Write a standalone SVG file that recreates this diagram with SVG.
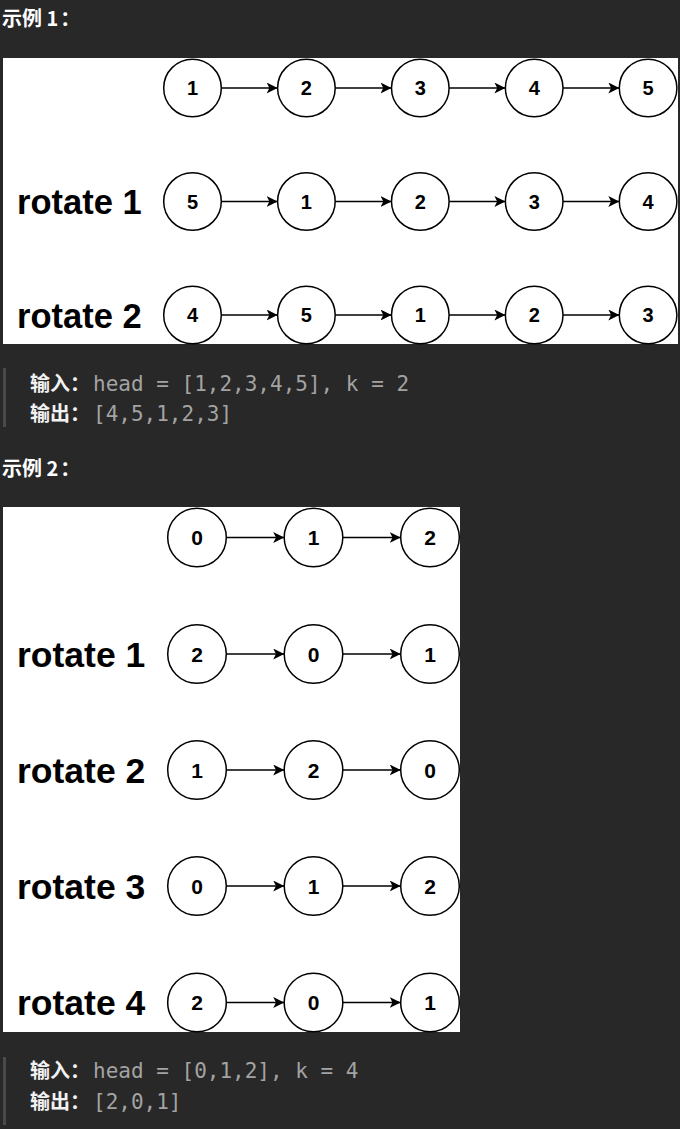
<svg xmlns="http://www.w3.org/2000/svg" width="680" height="1129" viewBox="0 0 680 1129">
<defs>
<marker id="arr" markerUnits="userSpaceOnUse" markerWidth="12" markerHeight="12" refX="11" refY="5.5" orient="auto">
<path d="M0,0 L11,5.5 L0,11 L2.8,5.5 z" fill="#000"/>
</marker>
<style>
.h{font-family:"Noto Sans CJK SC","Noto Sans",sans-serif;font-weight:bold;font-size:20px;fill:#ffffff}
.lb{font-family:"Noto Sans CJK SC","Noto Sans",sans-serif;font-weight:bold;font-size:20px;fill:#f2f2f2}
.mono{font-family:"DejaVu Sans Mono","Liberation Mono",monospace;font-size:21px;fill:#a3a3a3}
.bar{fill:#4a4a4a}
.panel{fill:#ffffff}
.c{fill:#ffffff;stroke:#000;stroke-width:1.5}
.n1{font-family:"Liberation Sans",Arial,sans-serif;font-weight:bold;font-size:20px;text-anchor:middle;fill:#000}
.n2{font-family:"Liberation Sans",Arial,sans-serif;font-weight:bold;font-size:21px;text-anchor:middle;fill:#000}
.rl1{font-family:"Liberation Sans",Arial,sans-serif;font-weight:bold;font-size:34.5px;fill:#000}
.rl2{font-family:"Liberation Sans",Arial,sans-serif;font-weight:bold;font-size:35.5px;fill:#000}
.e{stroke:#000;stroke-width:1.4;fill:none;marker-end:url(#arr)}
</style>
</defs>
<rect width="680" height="1129" fill="#282828"/>

<g id="header1"><text class="h" x="2" y="26">示例 1<tspan dx="2">：</tspan></text></g>
<rect class="panel" x="3" y="58" width="675" height="286"/>

<g id="labels1">
<text class="rl1" x="17" y="214">rotate 1</text>
<text class="rl1" x="17" y="327.5">rotate 2</text>
</g>

<g id="connectors1">
<line class="e" x1="221.3" y1="88" x2="277.6" y2="88"/>
<line class="e" x1="335.2" y1="88" x2="391.5" y2="88"/>
<line class="e" x1="449.1" y1="88" x2="505.4" y2="88"/>
<line class="e" x1="563.0" y1="88" x2="619.3" y2="88"/>
<line class="e" x1="221.3" y1="201.5" x2="277.6" y2="201.5"/>
<line class="e" x1="335.2" y1="201.5" x2="391.5" y2="201.5"/>
<line class="e" x1="449.1" y1="201.5" x2="505.4" y2="201.5"/>
<line class="e" x1="563.0" y1="201.5" x2="619.3" y2="201.5"/>
<line class="e" x1="221.3" y1="315" x2="277.6" y2="315"/>
<line class="e" x1="335.2" y1="315" x2="391.5" y2="315"/>
<line class="e" x1="449.1" y1="315" x2="505.4" y2="315"/>
<line class="e" x1="563.0" y1="315" x2="619.3" y2="315"/>
</g>

<g id="p1r0n0"><circle class="c" cx="192.5" cy="88" r="28.8"/><text class="n1" x="192.5" y="95.2">1</text></g>
<g id="p1r0n1"><circle class="c" cx="306.4" cy="88" r="28.8"/><text class="n1" x="306.4" y="95.2">2</text></g>
<g id="p1r0n2"><circle class="c" cx="420.3" cy="88" r="28.8"/><text class="n1" x="420.3" y="95.2">3</text></g>
<g id="p1r0n3"><circle class="c" cx="534.2" cy="88" r="28.8"/><text class="n1" x="534.2" y="95.2">4</text></g>
<g id="p1r0n4"><circle class="c" cx="648.1" cy="88" r="28.8"/><text class="n1" x="648.1" y="95.2">5</text></g>

<g id="p1r1n0"><circle class="c" cx="192.5" cy="201.5" r="28.8"/><text class="n1" x="192.5" y="208.7">5</text></g>
<g id="p1r1n1"><circle class="c" cx="306.4" cy="201.5" r="28.8"/><text class="n1" x="306.4" y="208.7">1</text></g>
<g id="p1r1n2"><circle class="c" cx="420.3" cy="201.5" r="28.8"/><text class="n1" x="420.3" y="208.7">2</text></g>
<g id="p1r1n3"><circle class="c" cx="534.2" cy="201.5" r="28.8"/><text class="n1" x="534.2" y="208.7">3</text></g>
<g id="p1r1n4"><circle class="c" cx="648.1" cy="201.5" r="28.8"/><text class="n1" x="648.1" y="208.7">4</text></g>

<g id="p1r2n0"><circle class="c" cx="192.5" cy="315" r="28.8"/><text class="n1" x="192.5" y="322.2">4</text></g>
<g id="p1r2n1"><circle class="c" cx="306.4" cy="315" r="28.8"/><text class="n1" x="306.4" y="322.2">5</text></g>
<g id="p1r2n2"><circle class="c" cx="420.3" cy="315" r="28.8"/><text class="n1" x="420.3" y="322.2">1</text></g>
<g id="p1r2n3"><circle class="c" cx="534.2" cy="315" r="28.8"/><text class="n1" x="534.2" y="322.2">2</text></g>
<g id="p1r2n4"><circle class="c" cx="648.1" cy="315" r="28.8"/><text class="n1" x="648.1" y="322.2">3</text></g>

<g id="io1">
<rect class="bar" x="3" y="368" width="3" height="59"/>
<text class="lb" x="30" y="391">输入：</text><text class="mono" x="93" y="391">head = [1,2,3,4,5], k = 2</text>
<text class="lb" x="30" y="421">输出：</text><text class="mono" x="93" y="421">[4,5,1,2,3]</text>
</g>

<g id="header2"><text class="h" x="2" y="476">示例 2<tspan dx="2">：</tspan></text></g>
<rect class="panel" x="3" y="507" width="457" height="525"/>

<g id="labels2">
<text class="rl2" x="17" y="666.7">rotate 1</text>
<text class="rl2" x="17" y="782.7">rotate 2</text>
<text class="rl2" x="17" y="898.7">rotate 3</text>
<text class="rl2" x="17" y="1015.2">rotate 4</text>
</g>

<g id="connectors2">
<line class="e" x1="226.3" y1="537.5" x2="284.2" y2="537.5"/>
<line class="e" x1="342.8" y1="537.5" x2="400.7" y2="537.5"/>
<line class="e" x1="226.3" y1="654" x2="284.2" y2="654"/>
<line class="e" x1="342.8" y1="654" x2="400.7" y2="654"/>
<line class="e" x1="226.3" y1="770" x2="284.2" y2="770"/>
<line class="e" x1="342.8" y1="770" x2="400.7" y2="770"/>
<line class="e" x1="226.3" y1="886" x2="284.2" y2="886"/>
<line class="e" x1="342.8" y1="886" x2="400.7" y2="886"/>
<line class="e" x1="226.3" y1="1002.5" x2="284.2" y2="1002.5"/>
<line class="e" x1="342.8" y1="1002.5" x2="400.7" y2="1002.5"/>
</g>

<g id="p2r0n0"><circle class="c" cx="197" cy="537.5" r="29.3"/><text class="n2" x="197" y="545">0</text></g>
<g id="p2r0n1"><circle class="c" cx="313.5" cy="537.5" r="29.3"/><text class="n2" x="313.5" y="545">1</text></g>
<g id="p2r0n2"><circle class="c" cx="430" cy="537.5" r="29.3"/><text class="n2" x="430" y="545">2</text></g>

<g id="p2r1n0"><circle class="c" cx="197" cy="654" r="29.3"/><text class="n2" x="197" y="661.5">2</text></g>
<g id="p2r1n1"><circle class="c" cx="313.5" cy="654" r="29.3"/><text class="n2" x="313.5" y="661.5">0</text></g>
<g id="p2r1n2"><circle class="c" cx="430" cy="654" r="29.3"/><text class="n2" x="430" y="661.5">1</text></g>

<g id="p2r2n0"><circle class="c" cx="197" cy="770" r="29.3"/><text class="n2" x="197" y="777.5">1</text></g>
<g id="p2r2n1"><circle class="c" cx="313.5" cy="770" r="29.3"/><text class="n2" x="313.5" y="777.5">2</text></g>
<g id="p2r2n2"><circle class="c" cx="430" cy="770" r="29.3"/><text class="n2" x="430" y="777.5">0</text></g>

<g id="p2r3n0"><circle class="c" cx="197" cy="886" r="29.3"/><text class="n2" x="197" y="893.5">0</text></g>
<g id="p2r3n1"><circle class="c" cx="313.5" cy="886" r="29.3"/><text class="n2" x="313.5" y="893.5">1</text></g>
<g id="p2r3n2"><circle class="c" cx="430" cy="886" r="29.3"/><text class="n2" x="430" y="893.5">2</text></g>

<g id="p2r4n0"><circle class="c" cx="197" cy="1002.5" r="29.3"/><text class="n2" x="197" y="1010">2</text></g>
<g id="p2r4n1"><circle class="c" cx="313.5" cy="1002.5" r="29.3"/><text class="n2" x="313.5" y="1010">0</text></g>
<g id="p2r4n2"><circle class="c" cx="430" cy="1002.5" r="29.3"/><text class="n2" x="430" y="1010">1</text></g>

<g id="io2">
<rect class="bar" x="3" y="1057" width="3" height="68"/>
<text class="lb" x="30" y="1078">输入：</text><text class="mono" x="93" y="1078">head = [0,1,2], k = 4</text>
<text class="lb" x="30" y="1109">输出：</text><text class="mono" x="93" y="1109">[2,0,1]</text>
</g>
</svg>
